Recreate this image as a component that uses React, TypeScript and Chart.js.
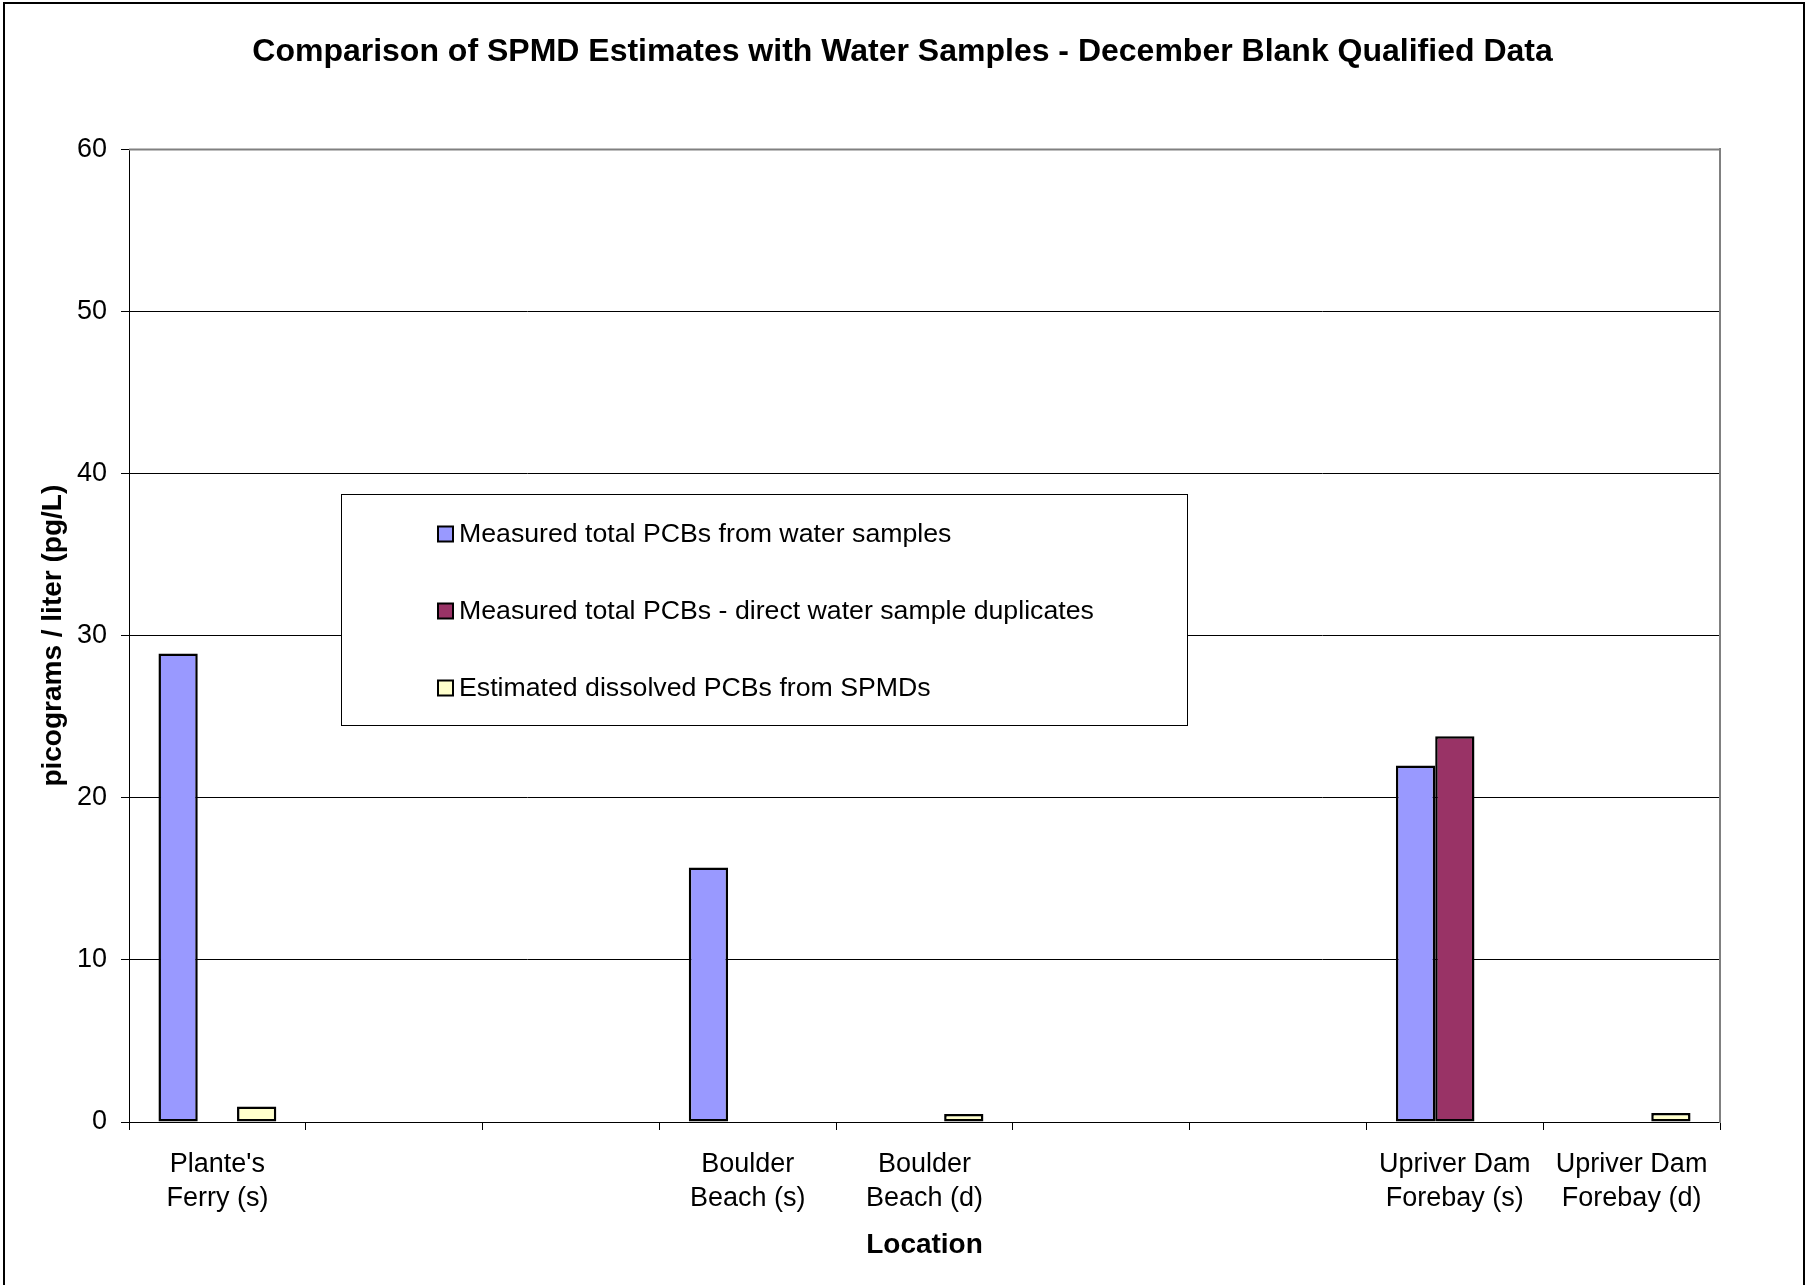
import React, { useEffect, useRef } from "react";
import { Chart, registerables } from "chart.js";

Chart.register(...registerables);

const TITLE = "Comparison of SPMD Estimates with Water Samples - December Blank Qualified Data";
const X_TITLE = "Location";
const Y_TITLE = "picograms / liter (pg/L)";

const categories: (string | string[])[] = [
  ["Plante's", "Ferry (s)"],
  "",
  "",
  ["Boulder", "Beach (s)"],
  ["Boulder", "Beach (d)"],
  "",
  "",
  ["Upriver Dam", "Forebay (s)"],
  ["Upriver Dam", "Forebay (d)"],
];

const measuredWater: (number | null)[] = [28.9, null, null, 15.7, null, null, null, 22.0, null];
const measuredDuplicates: (number | null)[] = [null, null, null, null, null, null, null, 23.8, null];
const estimatedSpmd: (number | null)[] = [0.95, null, null, null, 0.5, null, null, null, 0.55];

const seriesLabels = [
  "Measured total PCBs from water samples",
  "Measured total PCBs - direct water sample duplicates",
  "Estimated dissolved PCBs from SPMDs",
];
const seriesColors = ["#9999FF", "#993366", "#FFFFCC"];

const yMin = 0;
const yMax = 60;
const yStep = 10;

const FONT = "'Liberation Sans', Arial, Helvetica, sans-serif";

const frameAndLegendPlugin = {
  id: "frameAndLegend",
  beforeDraw(chart: any) {
    const { ctx, width, height } = chart;
    ctx.save();
    ctx.fillStyle = "#ffffff";
    ctx.fillRect(0, 0, width, height);
    ctx.strokeStyle = "#000000";
    ctx.lineWidth = 2;
    ctx.strokeRect(4, 3, width - 5, height + 20);
    ctx.restore();
  },
  afterDatasetsDraw(chart: any, _args: any, opts: any) {
    const { ctx, chartArea } = chart;
    ctx.save();
    // plot area top border (gray)
    ctx.strokeStyle = "#808080";
    ctx.lineWidth = 2;
    ctx.beginPath();
    ctx.moveTo(chartArea.left, chartArea.top);
    ctx.lineTo(chartArea.right, chartArea.top);
    ctx.stroke();

    // legend box
    ctx.fillStyle = "#ffffff";
    ctx.fillRect(opts.x, opts.y, opts.w, opts.h);
    ctx.strokeStyle = "#000000";
    ctx.lineWidth = 1;
    ctx.strokeRect(opts.x + 0.5, opts.y + 0.5, opts.w, opts.h);
    ctx.font = `${opts.fontSize}px ${FONT}`;
    ctx.textBaseline = "middle";
    ctx.textAlign = "left";
    chart.data.datasets.forEach((ds: any, i: number) => {
      const cy = opts.firstRowY + i * opts.rowGap;
      const s = opts.swatch;
      ctx.fillStyle = ds.backgroundColor;
      ctx.fillRect(opts.swatchX, cy - s / 2, s, s);
      ctx.strokeStyle = "#000";
      ctx.lineWidth = 2;
      ctx.strokeRect(opts.swatchX, cy - s / 2, s, s);
      ctx.fillStyle = "#000";
      ctx.fillText(ds.label, opts.textX, cy + 1);
    });
    ctx.restore();
  },
};

export default function App() {
  const canvasRef = useRef<HTMLCanvasElement | null>(null);

  useEffect(() => {
    if (!canvasRef.current) return;
    const chart = new Chart(canvasRef.current, {
      type: "bar",
      data: {
        labels: categories,
        datasets: [
          {
            label: seriesLabels[0],
            data: measuredWater,
            backgroundColor: seriesColors[0],
            borderColor: "#000",
            borderWidth: 2.5,
            borderSkipped: false,
          },
          {
            label: seriesLabels[1],
            data: measuredDuplicates,
            backgroundColor: seriesColors[1],
            borderColor: "#000",
            borderWidth: 2.5,
            borderSkipped: false,
          },
          {
            label: seriesLabels[2],
            data: estimatedSpmd,
            backgroundColor: seriesColors[2],
            borderColor: "#000",
            borderWidth: 2.5,
            borderSkipped: false,
          },
        ] as any,
      },
      options: {
        animation: false,
        responsive: true,
        maintainAspectRatio: false,
        layout: { padding: 0 },
        datasets: {
          bar: { categoryPercentage: 2 / 3, barPercentage: 1.0 },
        } as any,
        plugins: {
          legend: { display: false },
          tooltip: { enabled: false },
          title: {
            display: true,
            text: TITLE,
            color: "#000",
            font: { family: FONT, size: 32, weight: "bold" },
            padding: { top: 33, bottom: 78 },
          },
          frameAndLegend: {
            x: 341,
            y: 494,
            w: 846,
            h: 231,
            swatchX: 438,
            swatch: 15,
            textX: 459,
            firstRowY: 534,
            rowGap: 77,
            fontSize: 26.7,
          },
        } as any,
        scales: {
          x: {
            type: "category",
            offset: true,
            grid: {
              display: true,
              offset: true,
              drawOnChartArea: false,
              drawTicks: true,
              tickLength: 8,
              color: "#000",
              lineWidth: 1,
            },
            border: { display: true, color: "#000", width: 1 },
            ticks: {
              autoSkip: false,
              maxRotation: 0,
              minRotation: 0,
              padding: 18,
              color: "#000",
              font: { family: FONT, size: 27, lineHeight: 1.25 },
            },
            title: {
              display: true,
              text: X_TITLE,
              color: "#000",
              font: { family: FONT, size: 28, weight: "bold" },
              padding: { top: 0, bottom: 23 },
            },
            afterFit: (scale: any) => {
              scale.height = 163;
            },
          },
          y: {
            type: "linear",
            position: "left",
            min: yMin,
            max: yMax,
            grid: {
              display: true,
              drawTicks: true,
              tickLength: 8,
              color: "#000",
              lineWidth: 1,
            },
            border: { display: true, color: "#000", width: 1 },
            ticks: {
              stepSize: yStep,
              padding: 14,
              color: "#000",
              font: { family: FONT, size: 27 },
            },
            title: {
              display: true,
              text: Y_TITLE,
              color: "#000",
              font: { family: FONT, size: 28, weight: "bold" },
              padding: { top: 36, bottom: 0 },
            },
            afterFit: (scale: any) => {
              scale.width = 129;
            },
          },
          y2: {
            type: "linear",
            position: "right",
            display: true,
            grid: { display: false, drawTicks: false },
            border: { display: true, color: "#808080", width: 2 },
            ticks: { display: false },
            afterFit: (scale: any) => {
              scale.width = 85;
            },
          },
        } as any,
      },
      plugins: [frameAndLegendPlugin],
    });
    return () => chart.destroy();
  }, []);

  return (
    <div style={{ position: "absolute", left: 0, top: 0, width: 1805, height: 1285, background: "#fff" }}>
      <canvas ref={canvasRef} />
    </div>
  );
}
